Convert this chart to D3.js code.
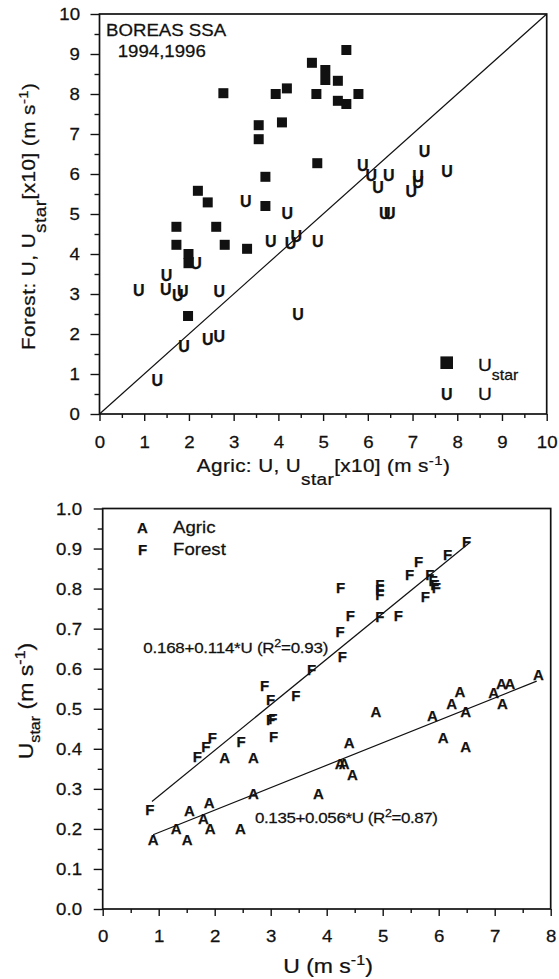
<!DOCTYPE html>
<html>
<head>
<meta charset="utf-8">
<script src="https://cdn.jsdelivr.net/npm/d3@7"></script>
<style>
  html, body { margin: 0; padding: 0; background: #fff; }
  svg { display: block; font-family: "Liberation Sans", Arial, Helvetica, sans-serif; }
  text { white-space: pre; stroke: #111; stroke-width: 0.25; }
</style>
</head>
<body>
<svg id="chart" width="559" height="979"></svg>
<script>
// ---------- Upper panel: Forest vs Agric (U and Ustar x10) ----------
const topTicks = [0, 1, 2, 3, 4, 5, 6, 7, 8, 9, 10];
const topMinorTicks = [0.5, 1.5, 2.5, 3.5, 4.5, 5.5, 6.5, 7.5, 8.5, 9.5];

// friction velocity x10: [agric, forest]
const ustarPairs = [
  [2.77, 8.02], [3.56, 7.22], [3.56, 6.87], [4.08, 7.29], [3.94, 8.00],
  [4.19, 8.14], [4.75, 8.78], [4.85, 8.00], [5.05, 8.60], [5.05, 8.35],
  [5.33, 8.33], [5.52, 9.10], [5.33, 7.83], [5.52, 7.75], [5.79, 8.00],
  [4.87, 6.27], [3.71, 5.93], [2.20, 5.58], [2.42, 5.29], [3.71, 5.20],
  [1.72, 4.68], [2.61, 4.68], [1.72, 4.23], [2.80, 4.23], [3.30, 4.13],
  [1.99, 4.00], [1.99, 3.77], [1.98, 2.45]
];

// wind speed: [agric, forest]
const windPairs = [
  [7.27, 6.56], [5.89, 6.22], [6.08, 5.97], [6.47, 5.97], [6.23, 5.68],
  [7.12, 5.95], [7.12, 5.80], [6.97, 5.56], [7.77, 6.06], [6.38, 5.02],
  [6.49, 5.02], [3.27, 5.31], [4.20, 5.02], [3.83, 4.31], [4.27, 4.27],
  [4.40, 4.45], [4.88, 4.33], [2.16, 3.78], [1.50, 3.48], [0.88, 3.10],
  [1.48, 3.12], [1.75, 2.98], [1.86, 3.06], [2.68, 3.06], [4.44, 2.50],
  [2.42, 1.87], [2.68, 1.95], [1.89, 1.70], [1.29, 0.85]
];

// ---------- Lower panel: Ustar vs U for both sites ----------
const bottomXTicks = [0, 1, 2, 3, 4, 5, 6, 7, 8];
const bottomXMinor = [0.5, 1.5, 2.5, 3.5, 4.5, 5.5, 6.5, 7.5];
const bottomYTicks = [0, 0.1, 0.2, 0.3, 0.4, 0.5, 0.6, 0.7, 0.8, 0.9, 1.0];
const bottomYMinor = [0.05, 0.15, 0.25, 0.35, 0.45, 0.55, 0.65, 0.75, 0.85, 0.95];

// [U, Ustar]
const forestPoints = [
  [6.50, 0.917], [6.16, 0.884], [5.64, 0.867], [5.48, 0.836], [5.84, 0.836],
  [5.90, 0.821], [5.93, 0.809], [5.96, 0.803], [5.76, 0.780], [4.95, 0.809],
  [4.95, 0.797], [4.95, 0.786], [4.25, 0.803], [4.42, 0.732], [4.95, 0.730],
  [5.28, 0.732], [4.24, 0.692], [4.28, 0.630], [3.73, 0.598], [2.89, 0.559],
  [3.00, 0.524], [3.45, 0.534], [3.00, 0.474], [3.04, 0.476], [3.05, 0.430],
  [1.96, 0.429], [1.84, 0.405], [2.47, 0.418], [1.69, 0.380], [0.84, 0.247]
];
const agricPoints = [
  [7.78, 0.586], [7.12, 0.564], [7.27, 0.564], [6.98, 0.541], [7.14, 0.514],
  [6.38, 0.543], [6.23, 0.514], [6.48, 0.494], [5.89, 0.482], [4.88, 0.493],
  [6.08, 0.429], [6.48, 0.405], [2.18, 0.379], [2.69, 0.379], [4.40, 0.415],
  [4.24, 0.364], [4.31, 0.364], [4.46, 0.336], [2.69, 0.287], [3.85, 0.287],
  [1.55, 0.245], [1.90, 0.265], [1.80, 0.226], [1.31, 0.201], [1.92, 0.201],
  [2.46, 0.201], [0.90, 0.174], [1.51, 0.174]
];

// regression fits: [intercept, slope, r2, uMin, uMax]
const forestFit = [0.168, 0.114, 0.93, 0.88, 6.55];
const agricFit = [0.135, 0.056, 0.87, 0.90, 7.75];

// ------------------------------------------------------------
const svg = d3.select("#chart");
const SX = 1.13;          // horizontal text stretch
const INK = "#111";

// multi-part text (sub/superscripts) placed at x,y
function rich(g, x, y, parts, opt = {}) {
  const sx = opt.sx ?? SX;
  const t = g.append("text")
    .attr("transform", `translate(${x},${y}) rotate(${opt.rotate || 0}) scale(${sx},1)`)
    .attr("text-anchor", opt.anchor || "start")
    .attr("fill", INK);
  if (opt.weight) t.attr("font-weight", opt.weight);
  let shift = 0;
  parts.forEach(p => {
    const s = p.shift || 0;
    t.append("tspan").attr("font-size", p.size).attr("dy", s - shift).text(p.t);
    shift = s;
  });
  if (opt.length) t.attr("textLength", opt.length / sx).attr("lengthAdjust", "spacing");
  return t;
}

function styleAxis(g) {
  g.attr("font-family", null).attr("font-size", null);
  g.select(".domain").remove();
  g.selectAll(".tick line").attr("stroke", INK).attr("stroke-width", 1.4);
}

function drawAxes(g, x, y, cfg) {
  const [x0, x1] = x.range();
  const [y0, y1] = y.range();
  // minor ticks
  g.append("g").attr("transform", `translate(0,${y0})`)
    .call(d3.axisBottom(x).tickValues(cfg.xMinor).tickSize(4).tickFormat(""))
    .call(styleAxis);
  g.append("g").attr("transform", `translate(${x0},0)`)
    .call(d3.axisLeft(y).tickValues(cfg.yMinor).tickSize(5).tickFormat(""))
    .call(styleAxis);
  // major ticks with labels
  const gx = g.append("g").attr("transform", `translate(0,${y0})`)
    .call(d3.axisBottom(x).tickValues(cfg.xTicks).tickSize(7).tickFormat(cfg.xFmt))
    .call(styleAxis);
  gx.selectAll("text").attr("y", null).attr("dy", null)
    .attr("transform", `translate(0,${cfg.xLabelDrop}) scale(${SX},1)`)
    .attr("font-size", cfg.tickFont).attr("fill", INK);
  const gy = g.append("g").attr("transform", `translate(${x0},0)`)
    .call(d3.axisLeft(y).tickValues(cfg.yTicks).tickSize(9).tickFormat(cfg.yFmt))
    .call(styleAxis);
  gy.selectAll("text").attr("x", null).attr("dy", null)
    .attr("transform", `translate(${-cfg.yLabelGap},${cfg.tickFont * 0.36}) scale(${SX},1)`)
    .attr("font-size", cfg.tickFont).attr("fill", INK);
  // frame
  g.append("rect").attr("x", x0).attr("y", y1).attr("width", x1 - x0).attr("height", y0 - y1)
    .attr("fill", "none").attr("stroke", INK).attr("stroke-width", 1.7);
}

// ================= upper panel =================
const gTop = svg.append("g");
const xT = d3.scaleLinear().domain([0, 10]).range([99.5, 546.7]);
const yT = d3.scaleLinear().domain([0, 10]).range([414, 14]);

drawAxes(gTop, xT, yT, {
  xTicks: topTicks, xMinor: topMinorTicks, yTicks: topTicks, yMinor: topMinorTicks,
  xFmt: d3.format("d"), yFmt: d3.format("d"),
  tickFont: 16.5, xLabelDrop: 34, yLabelGap: 19.5
});

// 1:1 line
gTop.append("line")
  .attr("x1", xT(0)).attr("y1", yT(0)).attr("x2", xT(10)).attr("y2", yT(10))
  .attr("stroke", INK).attr("stroke-width", 1.2);

// Ustar squares
const SQ = 10;
gTop.append("g").selectAll("rect").data(ustarPairs).join("rect")
  .attr("x", d => xT(d[0]) - SQ / 2).attr("y", d => yT(d[1]) - SQ / 2)
  .attr("width", SQ).attr("height", SQ).attr("fill", INK);

// U letters
gTop.append("g").selectAll("text").data(windPairs).join("text")
  .attr("x", d => xT(d[0])).attr("y", d => yT(d[1]) + 5.8)
  .attr("text-anchor", "middle").attr("font-size", 16).attr("font-weight", 700)
  .attr("fill", INK).text("U");

// site/years note
rich(gTop, 106, 36, [{ t: "BOREAS SSA", size: 16.5 }]);
rich(gTop, 117.7, 56.7, [{ t: "1994,1996", size: 16.5 }]);

// legend
gTop.append("rect").attr("x", 446.7 - 6.3).attr("y", 362.7 - 6.3)
  .attr("width", 12.6).attr("height", 12.6).attr("fill", INK);
rich(gTop, 478, 371, [{ t: "U", size: 17 }, { t: "star", size: 14, shift: 9 }]);
gTop.append("text").attr("x", 446.7).attr("y", 394 + 5.8).attr("text-anchor", "middle")
  .attr("font-size", 16).attr("font-weight", 700).attr("fill", INK).text("U");
rich(gTop, 478, 400, [{ t: "U", size: 17 }]);

// axis titles
rich(gTop, 323.3, 472.3, [
  { t: "Agric: U, U", size: 18 }, { t: "star", size: 16.5, shift: 13 },
  { t: "[x10] (m s", size: 18 }, { t: "-1", size: 13, shift: -7 }, { t: ")", size: 18 }
], { anchor: "middle", sx: 1.15, length: 253 });
rich(gTop, 35, 216.5, [
  { t: "Forest: U, U", size: 18 }, { t: "star", size: 16.5, shift: 11 },
  { t: "[x10] (m s", size: 18 }, { t: "-1", size: 13, shift: -7 }, { t: ")", size: 18 }
], { anchor: "middle", rotate: -90, sx: 1.15, length: 267 });

// ================= lower panel =================
const gBot = svg.append("g");
const xB = d3.scaleLinear().domain([0, 8]).range([102.7, 550.7]);
const yB = d3.scaleLinear().domain([0, 1]).range([909, 508.5]);

drawAxes(gBot, xB, yB, {
  xTicks: bottomXTicks, xMinor: bottomXMinor, yTicks: bottomYTicks, yMinor: bottomYMinor,
  xFmt: d3.format("d"), yFmt: d3.format(".1f"),
  tickFont: 16.5, xLabelDrop: 32.7, yLabelGap: 20.7
});

// regression lines
const fitLine = d3.line().x(d => xB(d[0])).y(d => yB(d[1]));
[forestFit, agricFit].forEach(f => {
  const pts = [f[3], f[4]].map(u => [u, f[0] + f[1] * u]);
  gBot.append("path").attr("d", fitLine(pts)).attr("fill", "none")
    .attr("stroke", INK).attr("stroke-width", 1.2);
});

// letter markers
function letters(data, ch) {
  gBot.append("g").selectAll("text").data(data).join("text")
    .attr("x", d => xB(d[0])).attr("y", d => yB(d[1]) + 5.4)
    .attr("text-anchor", "middle").attr("font-size", 15).attr("font-weight", 700)
    .attr("fill", INK).text(ch);
}
letters(forestPoints, "F");
letters(agricPoints, "A");

// legend
gBot.append("text").attr("x", 142.5).attr("y", 533).attr("text-anchor", "middle")
  .attr("font-size", 15).attr("font-weight", 700).attr("fill", INK).text("A");
rich(gBot, 173, 533, [{ t: "Agric", size: 16.5 }]);
gBot.append("text").attr("x", 142.5).attr("y", 554.5).attr("text-anchor", "middle")
  .attr("font-size", 15).attr("font-weight", 700).attr("fill", INK).text("F");
rich(gBot, 173, 555, [{ t: "Forest", size: 16.5 }]);

// fit equations
function eqParts(f) {
  return [
    { t: `${f[0].toFixed(3)}+${f[1].toFixed(3)}*U (R`, size: 15 },
    { t: "2", size: 11, shift: -6 },
    { t: `=${f[2].toFixed(2)})`, size: 15 }
  ];
}
rich(gBot, 143.3, 652.7, eqParts(forestFit), { length: 185 });
rich(gBot, 255, 823.3, eqParts(agricFit), { length: 183 });

// axis titles
rich(gBot, 328, 973, [
  { t: "U (m s", size: 20 }, { t: "-1", size: 14, shift: -8 }, { t: ")", size: 20 }
], { anchor: "middle", sx: 1.15 });
rich(gBot, 33, 701, [
  { t: "U", size: 20 }, { t: "star", size: 14, shift: 7 },
  { t: " (m s", size: 20 }, { t: "-1", size: 14, shift: -8 }, { t: ")", size: 20 }
], { anchor: "middle", rotate: -90, sx: 1.15 });
</script>
</body>
</html>
